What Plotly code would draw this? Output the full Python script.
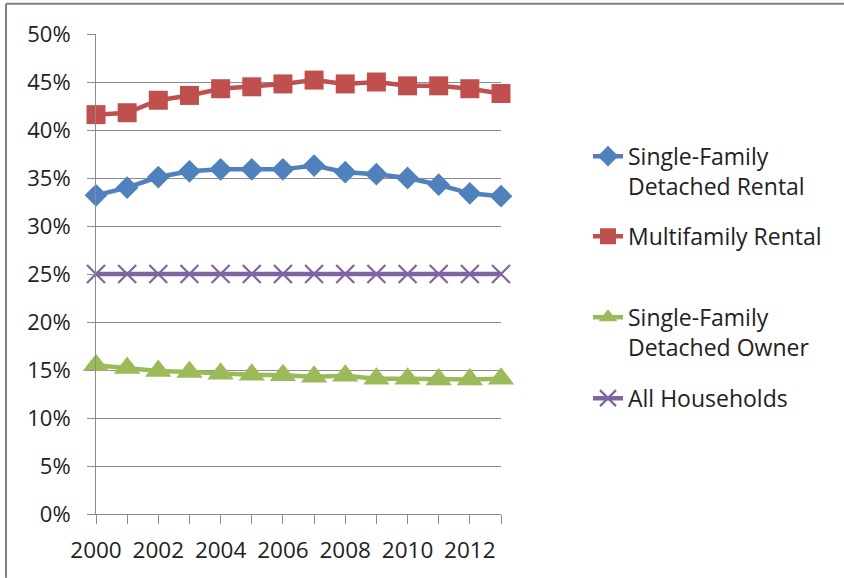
import plotly.graph_objects as go

years = list(range(2000, 2014))
sf_rental = [33.2, 34.0, 35.1, 35.7, 35.9, 35.9, 35.9, 36.3, 35.6, 35.4, 35.0, 34.3, 33.4, 33.1]
mf_rental = [41.6, 41.8, 43.1, 43.6, 44.3, 44.5, 44.8, 45.2, 44.8, 45.0, 44.6, 44.6, 44.3, 43.8]
sf_owner = [15.5, 15.2, 14.9, 14.8, 14.6, 14.5, 14.45, 14.3, 14.4, 14.1, 14.1, 14.0, 14.0, 14.1]
all_hh = [25.0] * 14

names = ["Single-Family<br>Detached Rental", "Multifamily Rental",
         "Single-Family<br>Detached Owner", "All Households"]
colors = ["#4F81BD", "#C0504D", "#9BBB59", "#8064A2"]

ytick_vals = [0, 5, 10, 15, 20, 25, 30, 35, 40, 45, 50]
ytick_text = [f"{v}%" for v in ytick_vals]
xtick_text = [str(y) if y % 2 == 0 else "" for y in years]

FONT = "Open Sans"
TXT = "#222222"
GRID = "#8c8c8c"

W, H = 844, 578
L, R_PX = 96, 501
T_PX, B_PX = 34.3, 514.3


def px_x(p):
    return (p - L) / (R_PX - L)


def px_y(p):
    return (B_PX - p) / (B_PX - T_PX)


fig = go.Figure()
series = [
    (sf_rental, "diamond", 17.5, None, "legend"),
    (mf_rental, "square", 19, None, "legend2"),
    (sf_owner, "triangle-up", 23, None, "legend3"),
    (all_hh, "x-thin", 18, 2.2, "legend4"),
]
for (vals, sym, size, mlw, leg), name, col in zip(series, names, colors):
    marker = dict(symbol=sym, size=size, color=col)
    marker["line"] = dict(color=col, width=mlw if mlw else 0)
    fig.add_trace(go.Scatter(
        x=years, y=vals, mode="lines+markers", name=name,
        line=dict(color=col, width=4.5), marker=marker,
        cliponaxis=False, legend=leg,
    ))

leg_common = dict(font=dict(family=FONT, size=23, color=TXT),
                  xanchor="left", yanchor="top", valign="top",
                  bgcolor="rgba(0,0,0,0)", borderwidth=0)

fig.update_layout(
    width=W, height=H,
    margin=dict(l=L, r=W - R_PX, t=T_PX, b=H - B_PX),
    paper_bgcolor="white", plot_bgcolor="white",
    font=dict(family=FONT, size=22, color=TXT),
    showlegend=True,
    legend=dict(x=px_x(588), y=px_y(135), **leg_common),
    legend2=dict(x=px_x(588), y=px_y(215), **leg_common),
    legend3=dict(x=px_x(588), y=px_y(296), **leg_common),
    legend4=dict(x=px_x(588), y=px_y(377), **leg_common),
    xaxis=dict(
        range=[2000, 2013], tickmode="array", tickvals=years, ticktext=xtick_text,
        showgrid=False, showline=True, linecolor=GRID, linewidth=1,
        ticks="outside", ticklen=9, tickcolor=GRID, tickwidth=1,
        ticklabelstandoff=7,
        tickfont=dict(family=FONT, size=22.5, color=TXT), zeroline=False,
    ),
    yaxis=dict(
        range=[0, 50], tickmode="array", tickvals=ytick_vals, ticktext=ytick_text,
        showgrid=True, gridcolor=GRID, gridwidth=1,
        showline=True, linecolor=GRID, linewidth=1,
        ticks="outside", ticklen=8, tickcolor=GRID, tickwidth=1,
        ticklabelstandoff=12,
        tickfont=dict(family=FONT, size=22, color=TXT), zeroline=False,
    ),
    shapes=[
        dict(type="line", xref="paper", yref="paper",
             x0=px_x(6), x1=px_x(844), y0=px_y(4), y1=px_y(4),
             line=dict(color="#7f7f7f", width=2)),
        dict(type="line", xref="paper", yref="paper",
             x0=px_x(6), x1=px_x(6), y0=px_y(4), y1=px_y(578),
             line=dict(color="#7f7f7f", width=2)),
    ],
)

fig.write_html("out.html",
               config={"displayModeBar": False},
               post_script="document.body.style.margin='0';document.body.style.padding='0';")
